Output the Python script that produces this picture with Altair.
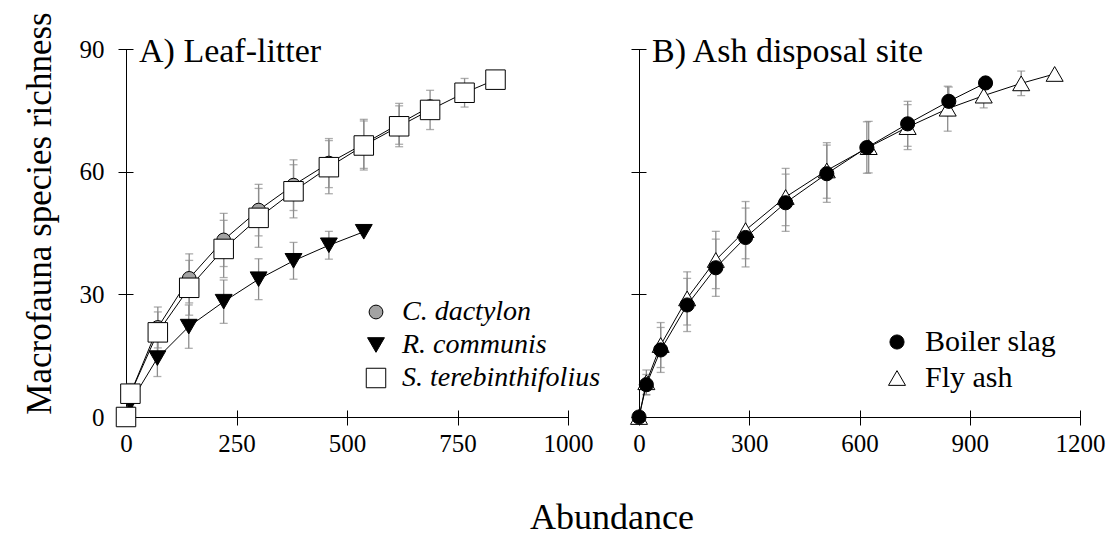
import altair as alt
import pandas as pd

FONT = "Liberation Serif"

# ---------------- Panel A: Leaf-litter ----------------
a_names = ["C. dactylon", "R. communis", "S. terebinthifolius"]
cd_x = [0, 10, 72, 143, 221, 300, 379, 459, 538, 618, 688]
cd_y = [0, 5.7, 21.9, 33.9, 43.3, 50.6, 56.7, 62.1, 66.8, 71.7, 75.9]
cd_e = [0, 2.0, 5.0, 6.0, 6.5, 6.3, 6.2, 6.0, 6.0, 5.0, 0]

rc_x = [0, 10, 71, 142, 221, 300, 379, 459, 538]
rc_y = [0, 3.5, 14.4, 22.1, 28.2, 33.7, 38.2, 42.0, 45.3]
rc_e = [0, 1.0, 4.5, 5.3, 5.3, 5.0, 4.5, 3.4, 0]

st_x = [0, 10, 72, 143, 221, 300, 379, 459, 538, 618, 688, 766, 836]
st_y = [0, 5.7, 20.7, 31.6, 41.1, 48.7, 55.2, 61.1, 66.4, 71.1, 75.1, 79.3, 82.5]
st_e = [0, 2.5, 5.0, 6.7, 7.0, 7.2, 6.5, 6.5, 6.0, 5.0, 4.8, 3.5, 0]

# ---------------- Panel B: Ash disposal site ----------------
b_names = ["Boiler slag", "Fly ash"]
bs_x = [0, 20, 59, 131, 209, 290, 399, 511, 620, 731, 843, 943]
bs_y = [0, 7.9, 16.4, 27.4, 36.5, 43.9, 52.4, 59.5, 65.9, 71.7, 77.2, 81.7]
bs_e = [0, 2.5, 5.5, 6.5, 7.0, 7.2, 7.0, 7.0, 6.3, 5.5, 3.5, 0]

fa_x = [0, 20, 59, 131, 209, 290, 399, 511, 625, 731, 840, 938, 1040, 1131]
fa_y = [0, 8.5, 17.6, 29.0, 38.4, 45.7, 53.8, 60.3, 66.0, 70.9, 75.4, 78.6, 81.6, 83.9]
fa_e = [0, 3.0, 5.5, 6.5, 7.0, 7.0, 7.0, 6.8, 6.3, 5.5, 5.5, 3.0, 3.0, 0]

a_xticks = [0, 250, 500, 750, 1000]
b_xticks = [0, 300, 600, 900, 1200]
y_ticks = [0, 30, 60, 90]
x_title = "Abundance"


def frame(names, xs, ys, es):
    rows = []
    for n, X, Y, E in zip(names, xs, ys, es):
        for x, y, e in zip(X, Y, E):
            rows.append({"series": n, "x": x, "y": y, "lo": y - e, "hi": y + e, "e": e})
    return pd.DataFrame(rows)


dfA = frame(a_names, [cd_x, rc_x, st_x], [cd_y, rc_y, st_y], [cd_e, rc_e, st_e])
# fly ash drawn first so boiler slag circles sit on top
dfB = frame(["Fly ash", "Boiler slag"], [fa_x, bs_x], [fa_y, bs_y], [fa_e, bs_e])

ERR = "#8c8c8c"
H = 368


def panel(df, title, xmax, xticks, domain, shapes, fills, sizes, legend, ylabels, width):
    xs = alt.Scale(domain=[0, xmax], nice=False, zero=False)
    ys = alt.Scale(domain=[0, 90], nice=False, zero=False)
    xaxis = alt.Axis(values=xticks, offset=-7, domain=False, tickSize=15, labelPadding=6,
                     grid=False, title=None, labelFlush=False, format="d")
    if ylabels:
        yaxis = alt.Axis(values=y_ticks, offset=-7, domain=False, tickSize=15, labelPadding=14,
                         grid=False, title="Macrofauna species richness", titleFontSize=35,
                         titleFont=FONT, titleFontWeight="normal", titleColor="black",
                         titleX=-76, titleY=164, format="d")
    else:
        yaxis = alt.Axis(values=y_ticks, offset=-7, domain=False, tickSize=15, labels=False,
                         grid=False, title=None)
    X = alt.X("x:Q", scale=xs, axis=xaxis)
    Y = alt.Y("y:Q", scale=ys, axis=yaxis)

    base = alt.Chart(df)
    xdom = base.mark_rule(color="black", strokeWidth=1, yOffset=0.5).encode(
        x=alt.datum(0), x2=alt.datum(xmax), y=alt.datum(0))
    ydom = base.mark_rule(color="black", strokeWidth=1, xOffset=0.5).encode(
        x=alt.datum(0), y=alt.datum(0), y2=alt.datum(90))
    err = base.transform_filter("datum.e > 0")
    bars = err.mark_rule(color=ERR, strokeWidth=1.3).encode(
        x="x:Q", y=alt.Y("lo:Q", scale=ys), y2="hi:Q")
    cap_lo = err.mark_tick(color=ERR, orient="horizontal", size=8, thickness=1.3).encode(
        x="x:Q", y=alt.Y("lo:Q", scale=ys))
    cap_hi = err.mark_tick(color=ERR, orient="horizontal", size=8, thickness=1.3).encode(
        x="x:Q", y=alt.Y("hi:Q", scale=ys))
    lines = base.mark_line(color="black", strokeWidth=1).encode(
        x=X, y=Y, detail="series:N")
    pts = base.mark_point(filled=True, strokeWidth=1, opacity=1).encode(
        x=X, y=Y,
        stroke=alt.Stroke("series:N", scale=alt.Scale(domain=domain, range=["black"] * len(domain)),
                          legend=legend),
        shape=alt.Shape("series:N", scale=alt.Scale(domain=domain, range=shapes), legend=legend),
        fill=alt.Fill("series:N", scale=alt.Scale(domain=domain, range=fills), legend=legend),
        size=alt.Size("series:N", scale=alt.Scale(domain=domain, range=sizes), legend=legend),
    )
    label = alt.Chart(pd.DataFrame({"t": [title]})).mark_text(
        align="left", baseline="alphabetic", font=FONT, fontSize=34, color="black"
    ).encode(text="t:N", x=alt.value(13), y=alt.value(13))
    layers = [xdom, ydom, bars, cap_lo, cap_hi, lines, pts, label]
    if ylabels:
        xt = alt.Chart(pd.DataFrame({"t": [x_title]})).mark_text(
            align="center", baseline="alphabetic", font=FONT, fontSize=36, color="black"
        ).encode(text="t:N", x=alt.value(486), y=alt.value(480))
        layers.append(xt)
    return alt.layer(*layers).properties(width=width, height=H)


legA = alt.Legend(title=None, orient="none", legendX=236, legendY=249, padding=0,
                  labelFont=FONT, labelFontSize=28, labelFontStyle="italic", labelColor="black",
                  labelOffset=12, rowPadding=5, symbolStrokeColor="black",
                  symbolStrokeWidth=1, labelLimit=400)
legB = alt.Legend(title=None, orient="none", legendX=243, legendY=278, padding=0,
                  labelFont=FONT, labelFontSize=30, labelColor="black",
                  labelOffset=13, rowPadding=6, symbolStrokeColor="black",
                  symbolStrokeWidth=1, labelLimit=400)

pA = panel(dfA, "A) Leaf-litter", 1000, a_xticks, a_names,
           ["circle", "triangle-down", "square"], ["#a3a3a3", "black", "white"], [190, 380, 200],
           legA, True, 442)
pB = panel(dfB, "B) Ash disposal site", 1200, b_xticks, b_names,
           ["circle", "triangle-up"], ["black", "white"], [200, 290],
           legB, False, 441)

chart = alt.hconcat(pA, pB, spacing=71, bounds="flush").resolve_scale(
    shape="independent", fill="independent", size="independent", stroke="independent",
    x="independent"
).resolve_legend(shape="independent", fill="independent", size="independent",
                 stroke="independent").properties(
    padding={"left": 21, "top": 11, "right": 5, "bottom": 5},
).configure_view(stroke=None).configure_axis(
    labelFont=FONT, labelFontSize=25, labelColor="black", tickColor="black", tickWidth=1,
)

chart.save("out.html", embed_options={"renderer": "svg", "actions": False})
